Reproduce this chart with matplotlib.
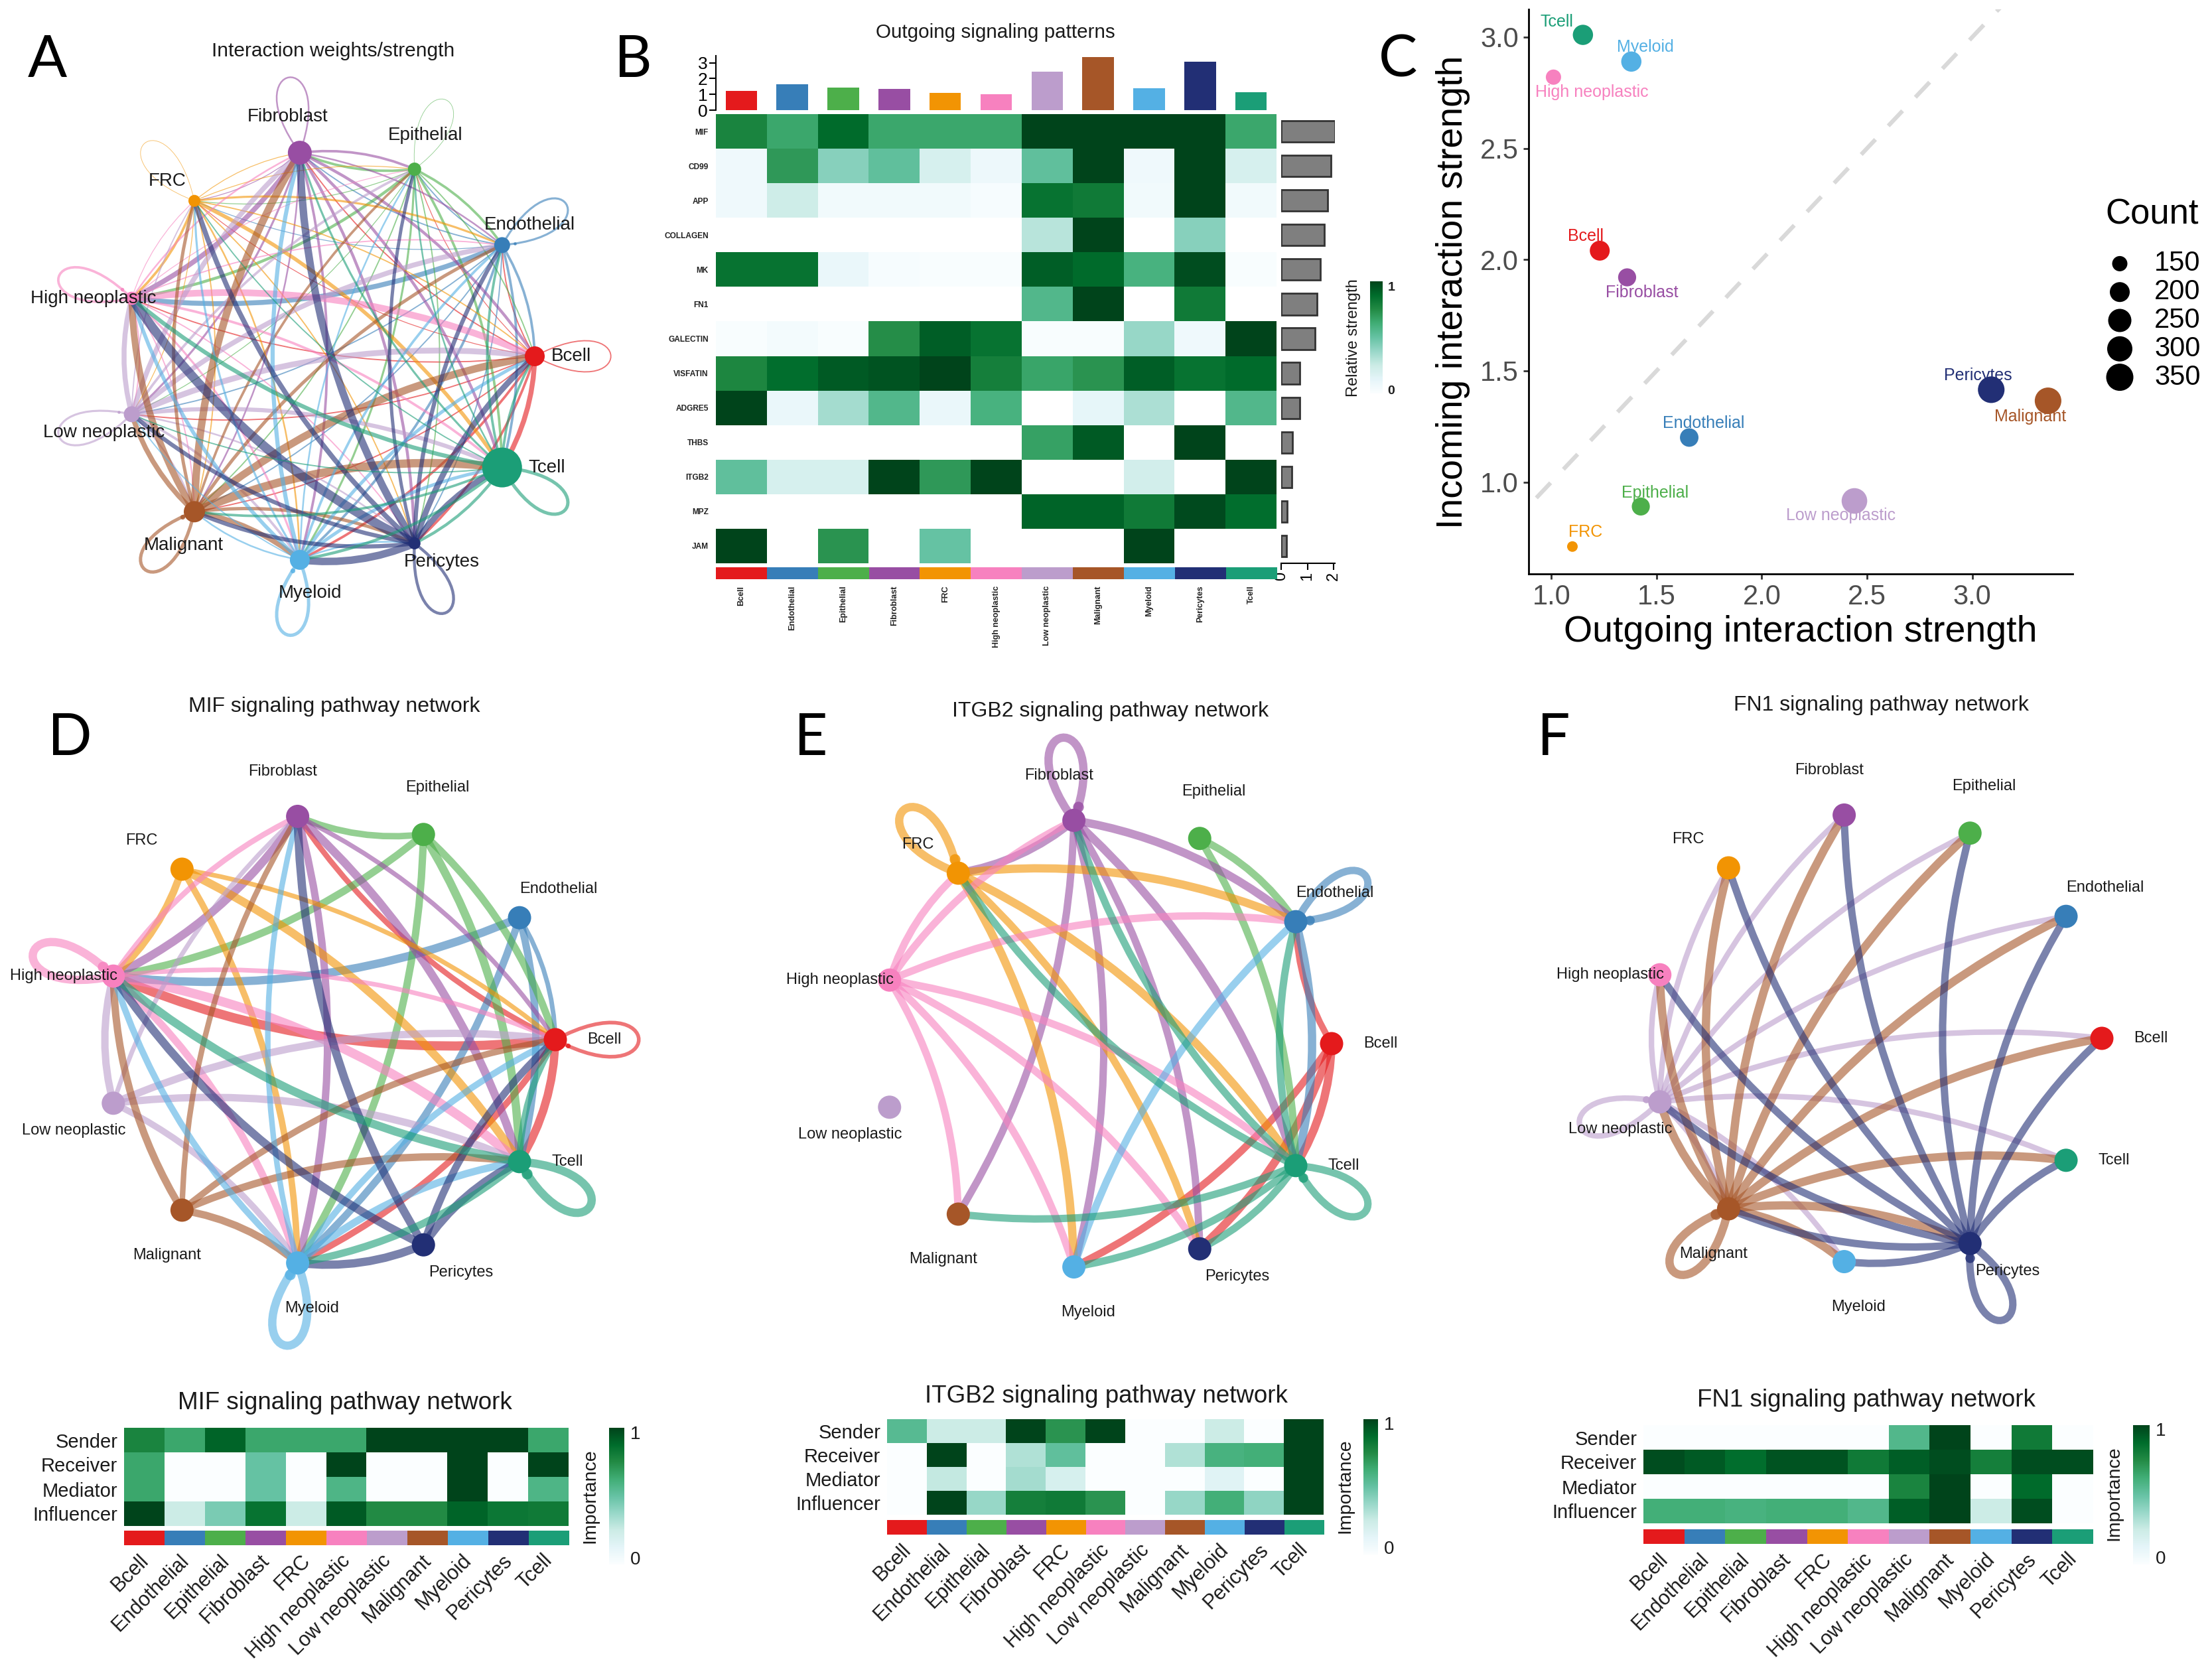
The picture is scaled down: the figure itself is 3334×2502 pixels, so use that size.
import numpy as np
import matplotlib

matplotlib.use("Agg")
import matplotlib.pyplot as plt
from matplotlib.colors import LinearSegmentedColormap, ListedColormap
from matplotlib.patches import PathPatch
from matplotlib.path import Path

plt.rcParams["font.family"] = ["Liberation Sans", "DejaVu Sans"]

W, H = 3334, 2502
nan = np.nan

CELLS = ["Bcell", "Endothelial", "Epithelial", "Fibroblast", "FRC", "High neoplastic",
         "Low neoplastic", "Malignant", "Myeloid", "Pericytes", "Tcell"]
COLORS = ["#E41A1C", "#377EB8", "#4DAF4A", "#984EA3", "#F29403", "#F781BF",
          "#BC9DCC", "#A65628", "#54B0E4", "#222F75", "#1B9E77"]

# panel A, edge widths in px, row = sender, column = receiver
WEIGHTS_A = [
    [1.5, 1.5, 1, 1.5, 1, 1.5, 1.5, 1.5, 3, 3, 6],
    [3, 2.5, 1.5, 1.5, 1, 6, 1.5, 1.5, 3, 1.5, 3],
    [1.5, 3, 0.7, 3, 1, 3.5, 1, 1.5, 2.5, 1.5, 3],
    [3.5, 2, 3, 2, 1, 6, 2.5, 2, 3, 3.5, 3.5],
    [1.5, 2.5, 1, 1, 0.7, 3, 1, 1.5, 2, 1.5, 4.5],
    [8, 1.5, 1, 2, 1, 3, 1.5, 1.5, 2.5, 1.5, 3],
    [7, 6, 3, 6, 1.5, 6, 2.5, 2, 3, 2, 5],
    [9, 4, 3, 9, 4, 8, 6, 4, 6, 4, 10],
    [4, 3, 2, 5, 2.5, 4.5, 1.5, 2, 4, 2, 4],
    [7, 5, 4, 9, 6, 11, 5, 5, 9, 3.5, 7],
    [3, 3, 2, 2.5, 1.5, 5, 1.5, 3, 3.5, 3.5, 4],
]
NODE_R_A = [15, 12, 10, 18, 9, 10, 12, 16, 15, 9, 30]
LABEL_DX_A = [55, 42, 16, -18, -41, -58, -42, -16, 16, 41, 67]
LABEL_DY_A = [0, -30, -51, -54, -30, 0, 28, 51, 50, 28, 0]

WEIGHTS_MIF = [
    [4, 0, 0, 6, 0, 10, 0, 0, 7, 0, 9],
    [5, 0, 0, 0, 0, 9, 0, 0, 8, 0, 8],
    [8, 0, 0, 7, 0, 8, 0, 0, 8, 0, 9],
    [5, 0, 0, 0, 0, 9, 0, 0, 8, 0, 9],
    [5, 0, 0, 0, 0, 8, 0, 0, 7, 0, 9],
    [5, 0, 0, 6, 0, 9, 0, 0, 8, 0, 10],
    [8, 0, 0, 5, 0, 8, 0, 0, 7, 0, 8],
    [7, 0, 0, 6, 0, 8, 0, 0, 8, 0, 8],
    [7, 0, 0, 6, 0, 7, 0, 0, 9, 0, 8],
    [8, 0, 0, 9, 0, 9, 0, 0, 9, 0, 9],
    [7, 0, 0, 0, 0, 9, 0, 0, 8, 0, 9],
]
WEIGHTS_ITGB2 = [
    [0, 7, 0, 0, 0, 0, 0, 0, 8, 9, 9],
    [0, 8, 0, 0, 0, 0, 0, 0, 0, 0, 9],
    [0, 8, 0, 0, 0, 0, 0, 0, 0, 0, 8],
    [0, 9, 0, 9, 9, 0, 0, 8, 8, 8, 9],
    [0, 9, 0, 0, 9, 0, 0, 0, 9, 8, 9],
    [0, 8, 0, 8, 8, 0, 0, 8, 8, 8, 8],
    [0, 0, 0, 0, 0, 0, 0, 0, 0, 0, 0],
    [0, 0, 0, 0, 0, 0, 0, 0, 0, 0, 0],
    [0, 8, 0, 0, 0, 0, 0, 0, 0, 0, 0],
    [0, 0, 0, 0, 0, 0, 0, 0, 0, 0, 0],
    [0, 8, 0, 8, 8, 0, 0, 8, 8, 8, 8],
]
WEIGHTS_FN1 = [
    [0, 0, 0, 0, 0, 0, 0, 0, 0, 0, 0],
    [0, 0, 0, 0, 0, 0, 0, 0, 0, 0, 0],
    [0, 0, 0, 0, 0, 0, 0, 0, 0, 0, 0],
    [0, 0, 0, 0, 0, 0, 0, 0, 0, 0, 0],
    [0, 0, 0, 0, 0, 0, 0, 0, 0, 0, 0],
    [0, 0, 0, 0, 0, 0, 0, 0, 0, 0, 0],
    [6, 6, 6, 6, 6, 6, 6, 6, 6, 0, 6],
    [9, 9, 9, 9, 9, 9, 9, 9, 9, 9, 9],
    [0, 0, 0, 0, 0, 0, 0, 0, 0, 0, 0],
    [8, 8, 8, 8, 8, 8, 8, 8, 8, 8, 8],
    [0, 0, 0, 0, 0, 0, 0, 0, 0, 0, 0],
]
LABEL_DX = [74, 59, 21, -23, -61, -75, -60, -23, 21, 57, 72]
LABEL_DY = [0, -43, -71, -67, -43, 0, 41, 68, 68, 42, 0]

# panel B
PATHWAYS = ["MIF", "CD99", "APP", "COLLAGEN", "MK", "FN1", "GALECTIN", "VISFATIN",
            "ADGRE5", "THBS", "ITGB2", "MPZ", "JAM"]
OUTGOING = [
    [0.78, 0.65, 0.88, 0.65, 0.65, 0.65, 1, 1, 1, 1, 0.65],
    [0.07, 0.7, 0.42, 0.52, 0.2, 0.08, 0.52, 1, 0.07, 1, 0.2],
    [0.07, 0.24, 0.06, 0.06, 0.06, 0.03, 0.85, 0.82, 0.06, 1, 0.06],
    [nan, nan, nan, nan, nan, nan, 0.3, 1, nan, 0.42, nan],
    [0.85, 0.85, 0.1, 0.03, 0.02, 0.02, 0.92, 0.88, 0.6, 0.97, 0.02],
    [nan, nan, nan, nan, nan, nan, 0.57, 1, nan, 0.82, nan],
    [0.02, 0.05, 0.02, 0.74, 0.92, 0.85, 0.02, 0.02, 0.38, 0.07, 1],
    [0.77, 0.87, 0.93, 0.95, 1, 0.8, 0.66, 0.72, 0.92, 0.85, 0.88],
    [1, 0.1, 0.35, 0.57, 0.1, 0.6, nan, 0.12, 0.33, nan, 0.57],
    [nan, nan, nan, nan, nan, nan, 0.67, 0.93, nan, 1, nan],
    [0.52, 0.2, 0.2, 1, 0.7, 1, nan, nan, 0.22, nan, 1],
    [nan, nan, nan, nan, nan, nan, 0.9, 0.9, 0.82, 0.98, 0.87],
    [1, nan, 0.72, nan, 0.5, nan, nan, nan, 1, nan, nan],
]
PATHWAY_TOTAL = [2.05, 1.9, 1.78, 1.65, 1.5, 1.37, 1.28, 0.72, 0.7, 0.42, 0.4, 0.24, 0.2]

# panel C
OUT_STRENGTH = [1.23, 1.655, 1.425, 1.36, 1.10, 1.01, 2.44, 3.36, 1.38, 3.09, 1.15]
IN_STRENGTH = [2.04, 1.20, 0.89, 1.92, 0.71, 2.82, 0.915, 1.365, 2.89, 1.415, 3.01]
COUNTS = [200, 185, 180, 180, 100, 150, 310, 335, 205, 335, 205]
TEXT_DX = [-21, 22, 21, 22, 20, 58, -20, -27, 21, -20, -39]
TEXT_DY = [-22, -21, -20, 23, -22, 23, 22, 24, -22, -21, -20]
LEGEND_COUNTS = [150, 200, 250, 300, 350]

# bottom heatmaps
ROLES = ["Sender", "Receiver", "Mediator", "Influencer"]
ROLES_MIF = [
    [0.78, 0.65, 0.9, 0.65, 0.65, 0.65, 1, 1, 1, 1, 0.65],
    [0.65, 0, 0, 0.5, 0, 1, 0, 0, 1, 0, 1],
    [0.65, 0, 0, 0.5, 0, 0.58, 0, 0, 1, 0, 0.58],
    [1, 0.25, 0.45, 0.85, 0.25, 0.93, 0.75, 0.75, 0.9, 0.83, 0.82],
]
ROLES_ITGB2 = [
    [0.55, 0.25, 0.25, 1, 0.72, 1, 0, 0, 0.25, 0, 1],
    [0, 1, 0, 0.32, 0.52, 0, 0, 0.32, 0.6, 0.62, 1],
    [0, 0.27, 0, 0.35, 0.2, 0, 0, 0, 0.15, 0, 1],
    [0, 1, 0.38, 0.8, 0.82, 0.72, 0, 0.38, 0.62, 0.4, 1],
]
ROLES_FN1 = [
    [0, 0, 0, 0, 0, 0, 0.57, 1, 0, 0.82, 0],
    [0.97, 0.93, 0.87, 0.95, 0.95, 0.82, 0.92, 0.97, 0.8, 0.97, 0.97],
    [0, 0, 0, 0, 0, 0, 0.78, 1, 0, 0.88, 0],
    [0.62, 0.62, 0.6, 0.62, 0.62, 0.57, 0.92, 1, 0.25, 0.97, 0],
]

HEAT_COLORS = ["#FBFEFF", "#E5F5F9", "#CCECE6", "#99D8C9", "#66C2A4", "#41AE76", "#238B45", "#006D2C", "#00441B"]
cmap = LinearSegmentedColormap.from_list("bugn", HEAT_COLORS)
cmap.set_bad("white")

fig = plt.figure(figsize=(W / 100, H / 100), dpi=100)


def ax_px(x0, y0, x1, y1):
    # axes from picture pixels, y counted from the top
    return fig.add_axes([x0 / W, 1 - y1 / H, (x1 - x0) / W, (y1 - y0) / H])


def text_px(x, y, s, **kw):
    kw.setdefault("ha", "center")
    kw.setdefault("va", "center")
    fig.text(x / W, 1 - y / H, s, **kw)


def draw_network(cx, cy, r, weights, node_r, dx, dy, font, lw_scale):
    ax = ax_px(cx - 1.6 * r, cy - 1.6 * r, cx + 1.6 * r, cy + 1.6 * r)
    ax.set_xlim(-1.6, 1.6)
    ax.set_ylim(-1.6, 1.6)
    ax.axis("off")
    angles = 2 * np.pi * np.arange(len(CELLS)) / len(CELLS)
    px = np.cos(angles)
    py = np.sin(angles)
    spread = np.radians(28)
    reach = 0.37 / 0.75 / np.cos(spread)
    for i in range(len(CELLS)):
        for j in range(len(CELLS)):
            w = weights[i][j]
            if w == 0:
                continue
            if i == j:
                a = angles[i]
                c1 = np.array([px[i] + reach * np.cos(a + spread), py[i] + reach * np.sin(a + spread)])
                c2 = np.array([px[i] + reach * np.cos(a - spread), py[i] + reach * np.sin(a - spread)])
                p = np.array([px[i], py[i]])
                path = Path([p, c1, c2, p], [Path.MOVETO, Path.CURVE4, Path.CURVE4, Path.CURVE4])
                if w >= 2.5:
                    # small arrow head of the loop, just off the node
                    t = 0.96
                    head = (1 - t) ** 3 * p + 3 * (1 - t) ** 2 * t * c1 + 3 * (1 - t) * t ** 2 * c2 + t ** 3 * p
                    ax.scatter(*head, s=(w * 1.3) ** 2, color=COLORS[i], alpha=0.8, lw=0, zorder=2, clip_on=False)
            else:
                mx = (px[i] + px[j]) / 2 - 0.134 * (py[j] - py[i])
                my = (py[i] + py[j]) / 2 + 0.134 * (px[j] - px[i])
                path = Path([(px[i], py[i]), (mx, my), (px[j], py[j])],
                            [Path.MOVETO, Path.CURVE3, Path.CURVE3])
            ax.add_patch(PathPatch(path, fc="none", ec=COLORS[i], lw=w * lw_scale,
                                   alpha=0.6, capstyle="butt", clip_on=False, zorder=2))
    ax.scatter(px, py, s=(2 * np.array(node_r) * 0.72) ** 2, c=COLORS, lw=0, zorder=3, clip_on=False)
    for i, name in enumerate(CELLS):
        ax.annotate(name, (px[i], py[i]), xytext=(dx[i], -dy[i]), textcoords="offset pixels",
                    ha="center", va="center", fontsize=font, color="#1a1a1a", zorder=4)


def draw_strip(ax):
    ax.imshow(np.arange(len(CELLS))[None, :], aspect="auto",
              cmap=ListedColormap(COLORS), interpolation="nearest")
    ax.set_yticks([])
    for s in ax.spines.values():
        s.set_visible(False)


def draw_colorbar(x0, y0, x1, y1):
    ax = ax_px(x0, y0, x1, y1)
    ax.imshow(np.linspace(1, 0, 256)[:, None], aspect="auto", cmap=cmap, vmin=0, vmax=1)
    ax.axis("off")


def draw_roles(box, strip, cbar, values, title_xy, ylabel_xy, tick_x, tick_y):
    ax = ax_px(*box)
    ax.pcolormesh(np.array(values), cmap=cmap, vmin=0, vmax=1)
    ax.invert_yaxis()
    ax.set_xticks([])
    ax.set_yticks(np.arange(len(ROLES)) + 0.5, ROLES, fontsize=21, color="#1a1a1a")
    ax.tick_params(axis="y", length=0, pad=7)
    for s in ax.spines.values():
        s.set_visible(False)
    sax = ax_px(box[0], strip[0], box[2], strip[1])
    draw_strip(sax)
    sax.set_xticks(np.arange(len(CELLS)) - 0.15, CELLS, rotation=45, ha="right", va="top",
                   rotation_mode="anchor", fontsize=22, color="#1a1a1a")
    sax.tick_params(axis="x", length=0, pad=6)
    draw_colorbar(*cbar)
    text_px(title_xy[0], title_xy[1], title_xy[2], fontsize=26.5, color="#1a1a1a")
    text_px(ylabel_xy[0], ylabel_xy[1], "Importance", rotation=90, fontsize=20.5, color="#1a1a1a")
    text_px(tick_x, tick_y[0], "1", fontsize=20, color="#1a1a1a")
    text_px(tick_x, tick_y[1], "0", fontsize=20, color="#1a1a1a")


# panel A
draw_network(496, 537, 310, WEIGHTS_A, NODE_R_A, LABEL_DX_A, LABEL_DY_A, 20, 0.9)
text_px(502, 77, "Interaction weights/strength", fontsize=21.5, color="#1a1a1a")

# panel B
heat = ax_px(1079, 172, 1924, 849)
heat.pcolormesh(np.ma.masked_invalid(np.array(OUTGOING)), cmap=cmap, vmin=0, vmax=1)
heat.invert_yaxis()
heat.set_xticks([])
heat.set_yticks(np.arange(len(PATHWAYS)) + 0.5, PATHWAYS, fontsize=8.6, color="#222222", fontweight="bold")
heat.tick_params(axis="y", length=0, pad=8)
for s in heat.spines.values():
    s.set_visible(False)

top = ax_px(1079, 84, 1924, 166)
top.bar(np.arange(len(CELLS)), OUT_STRENGTH, width=0.62, color=COLORS)
top.set_xlim(-0.5, len(CELLS) - 0.5)
top.set_ylim(0, 3.45)
top.set_yticks([0, 1, 2, 3])
top.set_xticks([])
top.tick_params(axis="y", labelsize=19, pad=2, length=7, width=1.5)
for s in ["top", "right", "bottom"]:
    top.spines[s].set_visible(False)
top.spines["left"].set_linewidth(1.5)

side = ax_px(1931, 172, 2012, 849)
side.barh(np.arange(len(PATHWAYS)), PATHWAY_TOTAL, height=0.62, color="#7F7F7F", edgecolor="#333333", lw=2)
side.set_ylim(len(PATHWAYS) - 0.5, -0.5)
side.set_xlim(0, 2.05)
side.set_xticks([0, 1, 2])
side.set_yticks([])
side.tick_params(axis="x", labelsize=17, labelrotation=90, length=7, width=1.5, pad=2)
for s in ["top", "right", "left"]:
    side.spines[s].set_visible(False)
side.spines["bottom"].set_linewidth(1.5)

strip_b = ax_px(1079, 855, 1924, 873)
draw_strip(strip_b)
strip_b.set_xticks(np.arange(len(CELLS)), CELLS, rotation=90, ha="center", va="top",
                   fontsize=9, color="#222222", fontweight="bold")
strip_b.tick_params(axis="x", length=0, pad=7)

draw_colorbar(2065, 424, 2084, 593)
text_px(2097, 434, "1", fontsize=14, color="#1a1a1a", fontweight="bold")
text_px(2097, 589, "0", fontsize=14, color="#1a1a1a", fontweight="bold")
text_px(2040, 509, "Relative strength", rotation=90, fontsize=17, color="#1a1a1a")
text_px(1500, 49, "Outgoing signaling patterns", fontsize=21.3, color="#1a1a1a")

# panel C
size_count = [100, 150, 200, 250, 300, 350]
size_px = [16, 23, 30, 35, 38, 41]


def point_area(counts):
    return (np.interp(counts, size_count, size_px) * 0.72) ** 2


sc = ax_px(2304, 14, 3124, 865)
sc.plot([0.8, 3.6], [0.8, 3.6], color="#D9D9D9", lw=4.5, ls=(0, (5, 4.5)), zorder=1)
sc.scatter(OUT_STRENGTH, IN_STRENGTH, s=point_area(COUNTS), c=COLORS, lw=0, zorder=2)
for i, name in enumerate(CELLS):
    sc.annotate(name, (OUT_STRENGTH[i], IN_STRENGTH[i]), xytext=(TEXT_DX[i], -TEXT_DY[i]),
                textcoords="offset pixels", ha="center", va="center", fontsize=18, color=COLORS[i], zorder=3)
sc.set_xlim(0.892, 3.477)
sc.set_ylim(0.587, 3.125)
sc.set_xticks([1, 1.5, 2, 2.5, 3], ["1.0", "1.5", "2.0", "2.5", "3.0"])
sc.set_yticks([1, 1.5, 2, 2.5, 3], ["1.0", "1.5", "2.0", "2.5", "3.0"])
sc.tick_params(labelsize=30, labelcolor="#4D4D4D", color="#333333", length=6, width=2, pad=5)
for s in ["top", "right"]:
    sc.spines[s].set_visible(False)
sc.spines["left"].set_linewidth(2)
sc.spines["bottom"].set_linewidth(2)
text_px(2714, 953, "Outgoing interaction strength", fontsize=40)
text_px(2190, 440, "Incoming interaction strength", fontsize=40, rotation=90)

leg = ax_px(3150, 376, 3334, 590)
leg.set_xlim(3150, 3334)
leg.set_ylim(len(LEGEND_COUNTS) - 0.5, -0.5)
leg.axis("off")
leg.scatter([3195] * len(LEGEND_COUNTS), np.arange(len(LEGEND_COUNTS)), s=point_area(LEGEND_COUNTS), c="black", lw=0)
for i, c in enumerate(LEGEND_COUNTS):
    leg.text(3247, i, str(c), fontsize=30, ha="left", va="center")
text_px(3244, 323, "Count", fontsize=38)

# panels D, E, F
NODE_R_SAME = [17.5] * len(CELLS)
draw_network(497, 1567, 340, WEIGHTS_MIF, NODE_R_SAME, LABEL_DX, LABEL_DY, 17, 1.0)
text_px(504, 1065, "MIF signaling pathway network", fontsize=23, color="#1a1a1a")
draw_network(1667, 1573, 340, WEIGHTS_ITGB2, NODE_R_SAME, LABEL_DX, LABEL_DY, 17, 1.0)
text_px(1674, 1072, "ITGB2 signaling pathway network", fontsize=23, color="#1a1a1a")
draw_network(2828, 1565, 340, WEIGHTS_FN1, NODE_R_SAME, LABEL_DX, LABEL_DY, 17, 1.0)
text_px(2835, 1063, "FN1 signaling pathway network", fontsize=23, color="#1a1a1a")

draw_roles((187, 2152, 857, 2300), (2307, 2329), (918, 2152, 941, 2358), ROLES_MIF,
           (520, 2115, "MIF signaling pathway network"), (889, 2255), 958, (2162, 2351))
draw_roles((1337, 2139, 1995, 2283), (2291, 2313), (2055, 2139, 2077, 2343), ROLES_ITGB2,
           (1667, 2104, "ITGB2 signaling pathway network"), (2027, 2240), 2094, (2148, 2335))
draw_roles((2477, 2148, 3155, 2296), (2305, 2327), (3215, 2148, 3240, 2358), ROLES_FN1,
           (2813, 2110, "FN1 signaling pathway network"), (3186, 2251), 3257, (2157, 2350))

# panel letters
for letter, x, y in [("A", 71, 92), ("B", 954, 92), ("C", 2107, 91),
                     ("D", 105, 1114), ("E", 1222, 1114), ("F", 2342, 1114)]:
    text_px(x, y, letter, fontsize=63, family="Lato")

fig.savefig("out.png", dpi=100, facecolor="white")
